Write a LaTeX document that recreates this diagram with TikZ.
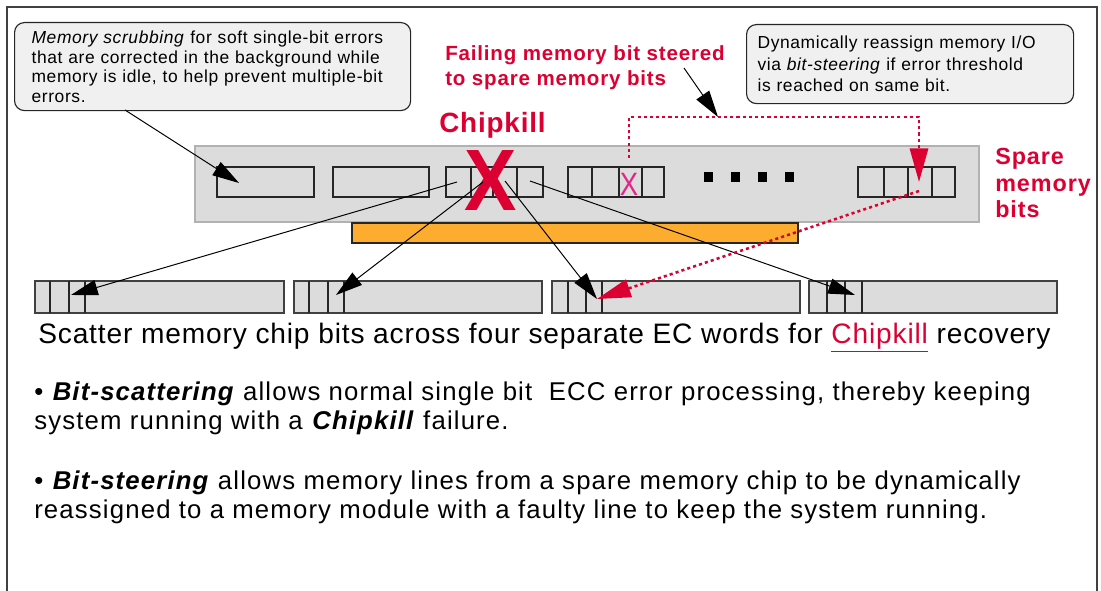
\documentclass[tikz,border=0pt]{standalone}
\usepackage{fontspec}
\setmainfont{Liberation Sans}
\usetikzlibrary{arrows.meta,positioning,fit}

\definecolor{killred}{RGB}{220,0,50}
\definecolor{flipmagenta}{RGB}{228,36,136}
\definecolor{busorange}{RGB}{252,172,46}
\definecolor{modgray}{RGB}{220,220,220}
\definecolor{notegray}{RGB}{240,240,240}

\begin{document}
\begin{tikzpicture}[
	x=0.025cm, y=-0.025cm,
	font=\fontsize{12}{14}\selectfont
	]
\tikzset{
	base/.style = { rectangle, inner sep=0pt },
	note/.style = { base, draw=black!85, fill=notegray, rounded corners=7pt, align=left, line width=0.8pt, anchor=north west },
	module/.style = { base, draw=black!30, fill=modgray, line width=0.8pt },
	chip/.style = { base, draw=black!85, line width=1pt },
	word/.style = { base, draw=black!75, fill=modgray, line width=1pt },
	divider/.style = { draw=black!85, line width=1pt },
	bus/.style = { base, draw=black!85, fill=busorange, line width=0.8pt },
	dot/.style = { base, fill=black, minimum size=0.225cm },
	redlabel/.style = { base, text=killred, align=left, anchor=north west },
	body/.style = { base, align=left, anchor=north west, font=\fontsize{18.3}{20.3}\selectfont\addfontfeature{LetterSpace=4.5} },
	arrow/.style = { line width=0.7pt, -{Triangle[length=19pt, width=11pt]} },
	steer/.style = { killred, line width=1.8pt, dash pattern=on 2.2pt off 2.2pt, -{Triangle[length=24pt, width=13pt]} }
}
	\useasboundingbox (0,0) rectangle (1101,591);
	\draw [black!75, line width=0.8pt] (7,591) -- (7,7) -- (1097,7) -- (1097,591);

	% callouts
	\node (scrubNote) [note, minimum width=9.9cm, minimum height=2.2cm, text width=9.05cm, inner xsep=0.425cm,
		font=\fontsize{12.4}{13.9}\selectfont\addfontfeature{LetterSpace=3.5}] at (14,22)
		{\textit{Memory scrubbing} for soft single-bit errors\\ that are corrected in the background while\\ memory is idle, to help prevent multiple-bit\\ errors.};
	\node (steerNote) [note, minimum width=8.175cm, minimum height=1.975cm, text width=7.625cm, inner xsep=0.275cm,
		font=\fontsize{12.4}{15.3}\selectfont\addfontfeature{LetterSpace=3.5}] at (746,24)
		{Dynamically reassign memory I/O\\ via \textit{bit-steering} if error threshold\\ is reached on same bit.};

	% red labels
	\node (failLabel) [redlabel, font=\fontsize{14.6}{17.8}\selectfont\bfseries\addfontfeature{LetterSpace=4}] at (445,45)
		{Failing memory bit steered\\ to spare memory bits};
	\node (killLabel) [redlabel, anchor=base west, font=\fontsize{19.8}{22}\selectfont\bfseries\addfontfeature{LetterSpace=3}] at (439,133) {Chipkill};
	\node (spareLabel) [redlabel, font=\fontsize{16.6}{18.9}\selectfont\bfseries\addfontfeature{LetterSpace=4}] at (995,148)
		{Spare\\ memory\\ bits};

	% memory module
	\node (module) [module, fit={(195,146) (979,222)}] {};
	\node (chipA) [chip, fit={(217,167) (314,197)}] {};
	\node (chipB) [chip, fit={(333,167) (429,197)}] {};
	\node (chipC) [chip, fit={(446,167) (543,197)}] {};
	\node (chipD) [chip, fit={(568,167) (664,197)}] {};
	\node (chipSpare) [chip, fit={(858,167) (955,197)}] {};
	\foreach \x in {471,493,517,592,619,642,884,908,932}
		\draw [divider] (\x,167) -- (\x,197);
	\foreach \x [count=\i] in {708,735,762,789}
		\node (dot\i) [dot] at (\x,177) {};
	\node (bus) [bus, fit={(352,223) (798,243)}] {};

	\node (killX) [base, text=killred] at (491,181) {\fontsize{62}{62}\selectfont\bfseries\scalebox{0.9}[1]{X}};
	\node (flipX) [base, text=flipmagenta] at (629,184) {\fontsize{23}{23}\selectfont\scalebox{0.85}[1]{X}};

	% EC words
	\node (wordA) [word, fit={(35,281) (284,313)}] {};
	\node (wordB) [word, fit={(294,281) (542,313)}] {};
	\node (wordC) [word, fit={(552,281) (800,313)}] {};
	\node (wordD) [word, fit={(809,281) (1057,313)}] {};
	\foreach \x in {50,69,85,309,328,344,568,586,602,827,845,862}
		\draw [divider] (\x,281) -- (\x,313);

	% texts
	\node (scatterText) [base, anchor=base west, font=\fontsize{20}{22}\selectfont\addfontfeature{LetterSpace=3}] at (38,343)
		{Scatter memory chip bits across four separate EC words for {\color{killred}\underline{Chipkill}} recovery};
	\node (scatterNote) [body] at (34,382)
		{• \textbf{\textit{Bit-scattering}} allows normal single bit~ ECC error processing, thereby keeping\\ system running with a \textbf{\textit{Chipkill}} failure.};
	\node (steerNoteText) [body] at (34,471)
		{• \textbf{\textit{Bit-steering}} allows memory lines from a spare memory chip to be dynamically\\ reassigned to a memory module with a faulty line to keep the system running.};

	% end points
	\coordinate (scrubFoot) at (125,110);
	\coordinate (hitChipA) at (239,183);
	\coordinate (failFoot) at (684,68);
	\coordinate (steerLine) at (718,117);
	\coordinate (flipBit) at (629,158);
	\coordinate (spareBit) at (919,182);
	\coordinate (spareOut) at (919,191);
	\coordinate (srcA) at (457,182);
	\coordinate (srcB) at (483,182);
	\coordinate (srcC) at (505,181);
	\coordinate (srcD) at (530,181);
	\coordinate (hitA) at (71,295);
	\coordinate (hitB) at (336,295);
	\coordinate (hitC) at (597,299);
	\coordinate (hitD) at (855,295);

	% paths
	\draw [arrow] (scrubFoot) -- (hitChipA);
	\draw [arrow] (failFoot) -- (steerLine);
	\draw [arrow] (srcA) -- (hitA);
	\draw [arrow] (srcB) -- (hitB);
	\draw [arrow] (srcC) -- (hitC);
	\draw [arrow] (srcD) -- (hitD);
	\draw [steer] (flipBit) -- (flipBit |- steerLine) -| (spareBit);
	\draw [steer] (spareOut) -- (hitC);
\end{tikzpicture}
\end{document}
